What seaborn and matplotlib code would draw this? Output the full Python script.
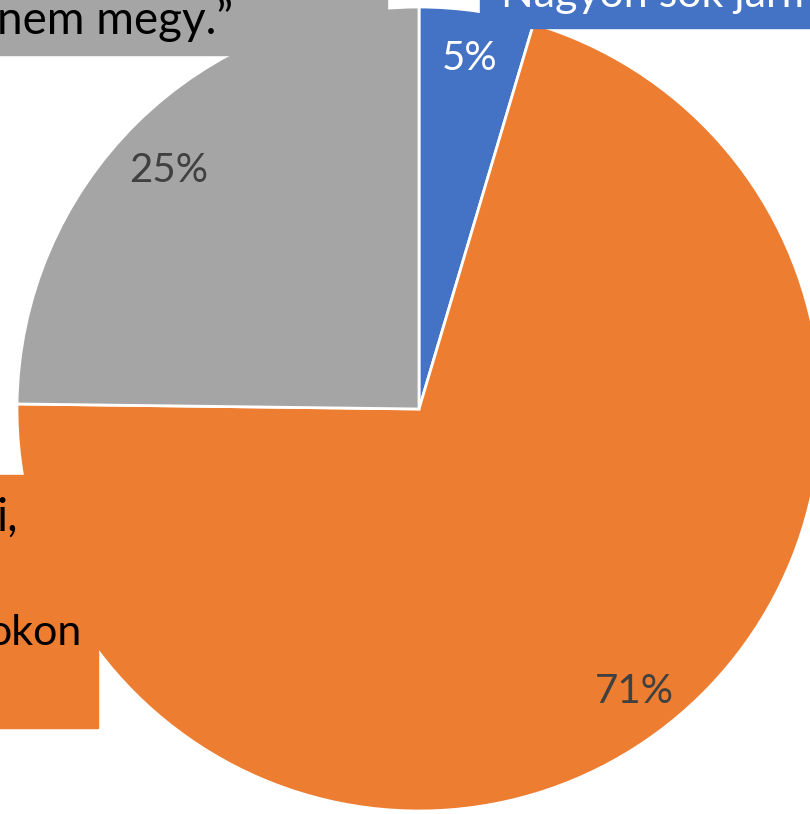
import matplotlib
matplotlib.use('Agg')
import matplotlib.pyplot as plt
from matplotlib.patches import Rectangle
import seaborn as sns

# slice shares (percent), clockwise from 12 o'clock
categories = ['Nagyon sok jármű', 'Forgalmas utakon', 'nem megy']
shares = [4.6, 70.6, 24.8]
colors = ['#4472C4', '#ED7D31', '#A5A5A5']

# callout fragments that are visible inside the cropped picture
grey_label = 'nem megy.”'
blue_label = 'Nagyon sok jármű'
orange_lines = ['i,', 'okon']

sns.set_theme(style='white')
plt.rcParams['font.family'] = ['Lato', 'DejaVu Sans']

W, H = 810, 814
fig = plt.figure(figsize=(W / 100, H / 100), dpi=100)
ax = fig.add_axes([0, 0, 1, 1])

wedges, texts, autotexts = ax.pie(
    shares, colors=colors, startangle=90, counterclock=False,
    center=(419, H - 409), radius=402,
    autopct='%.0f%%', pctdistance=0.88,
    wedgeprops=dict(edgecolor='white', linewidth=2),
    textprops=dict(fontsize=29, color='#404040'))
autotexts[0].set_color('white')
# Excel puts the grey label a bit lower than the plain radial spot
x25, y25 = autotexts[2].get_position()
autotexts[2].set_position((x25 - 2, y25 - 13))
x71, y71 = autotexts[1].get_position()
autotexts[1].set_position((x71 + 6, y71 + 2))

ax.set_xlim(0, W)
ax.set_ylim(0, H)
ax.set_aspect('equal')
ax.axis('off')

# callout boxes (cut off by the picture edges)
fs = 33
ax.add_patch(Rectangle((-10, H - 55), 397, 70, color=colors[2], zorder=3))
ax.text(-3, H - 34, grey_label, fontsize=fs, color='black', va='baseline', zorder=4)

ax.add_patch(Rectangle((480, H - 28), 360, 40, color=colors[0], zorder=3))
ax.text(501, H - 7, blue_label, fontsize=31, color='white', va='baseline', zorder=4)

ax.add_patch(Rectangle((-10, H - 728), 108, 253, color=colors[1], zorder=3))
ax.text(18, H - 531, orange_lines[0], fontsize=fs, color='black', ha='right', va='baseline', zorder=4)
ax.text(-13, H - 645, orange_lines[1], fontsize=31, color='black', ha='left', va='baseline', zorder=4)

fig.savefig('out.png', dpi=100)
